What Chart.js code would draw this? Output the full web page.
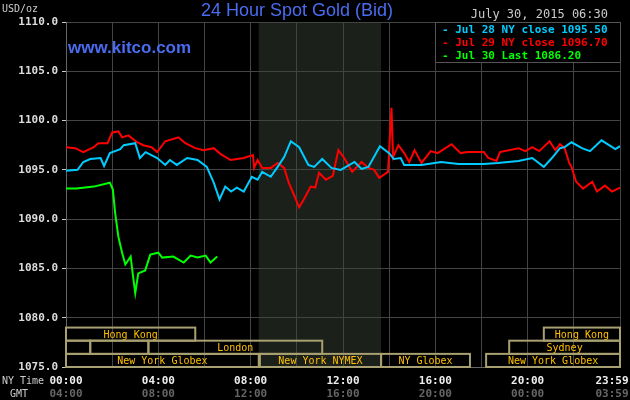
<!DOCTYPE html>
<html>
<head>
<meta charset="utf-8">
<script src="https://cdn.jsdelivr.net/npm/chart.js@4/dist/chart.umd.min.js"></script>
<style>
  body { margin: 0; background: #000; }
  #wrap { width: 630px; height: 400px; }
</style>
</head>
<body>
<div id="wrap"><canvas id="gold-chart" width="630" height="400"></canvas></div>
<script>
// hours since 00:00 NY time, price in USD/oz
const jul28Hours = [0, 0.5, 0.75, 1.05, 1.5, 1.65, 1.9, 2.35, 2.5, 3.0, 3.2, 3.45, 3.95, 4.3, 4.5, 4.8, 5.25, 5.7, 6.1, 6.4, 6.65, 6.9, 7.15, 7.4, 7.7, 8.05, 8.3, 8.5, 8.87, 9.17, 9.45, 9.74, 10.1, 10.5, 10.75, 11.1, 11.5, 11.9, 12.5, 12.8, 13.1, 13.6, 14.0, 14.2, 14.5, 14.65, 15.4, 16.25, 17, 18.1, 18.7, 19.6, 20.2, 20.7, 21.05, 21.4, 21.6, 21.9, 22.35, 22.7, 23.2, 23.8, 24];
const jul28Values = [1094.9, 1095.0, 1095.8, 1096.1, 1096.2, 1095.4, 1096.7, 1097.1, 1097.5, 1097.7, 1096.2, 1096.8, 1096.2, 1095.5, 1096.0, 1095.5, 1096.2, 1096.0, 1095.3, 1093.7, 1092.0, 1093.3, 1092.8, 1093.2, 1092.8, 1094.3, 1094.0, 1094.8, 1094.3, 1095.3, 1096.3, 1097.9, 1097.3, 1095.5, 1095.3, 1096.1, 1095.2, 1095.0, 1095.8, 1095.1, 1095.3, 1097.4, 1096.7, 1096.1, 1096.2, 1095.5, 1095.5, 1095.8, 1095.6, 1095.6, 1095.7, 1095.9, 1096.2, 1095.3, 1096.2, 1097.2, 1097.3, 1097.8, 1097.2, 1096.9, 1098.0, 1097.1, 1097.4];

const jul29Hours = [0, 0.4, 0.75, 1.2, 1.4, 1.8, 2.0, 2.27, 2.43, 2.7, 3.08, 3.35, 3.7, 3.95, 4.3, 4.87, 5.17, 5.6, 5.96, 6.4, 6.7, 7.13, 7.7, 8.1, 8.15, 8.3, 8.5, 8.87, 9.17, 9.45, 9.65, 9.87, 10.1, 10.3, 10.6, 10.8, 10.96, 11.26, 11.56, 11.8, 12.05, 12.4, 12.8, 13.1, 13.35, 13.57, 13.95, 14.1, 14.17, 14.4, 14.65, 14.87, 15.1, 15.4, 15.8, 16.1, 16.7, 17.1, 17.4, 18.1, 18.3, 18.65, 18.8, 19.6, 19.9, 20.2, 20.5, 20.95, 21.2, 21.4, 21.6, 21.8, 21.9, 22.1, 22.4, 22.8, 23.0, 23.35, 23.65, 24];
const jul29Values = [1097.3, 1097.2, 1096.8, 1097.3, 1097.7, 1097.7, 1098.8, 1098.9, 1098.3, 1098.5, 1097.8, 1097.5, 1097.3, 1096.8, 1097.9, 1098.3, 1097.7, 1097.2, 1097.0, 1097.2, 1096.6, 1096.0, 1096.2, 1096.5, 1095.2, 1096.0, 1095.2, 1095.2, 1095.7, 1095.2, 1093.7, 1092.5, 1091.2, 1092.0, 1093.3, 1093.2, 1094.7, 1094.0, 1094.4, 1097.0, 1096.2, 1094.8, 1095.8, 1095.2, 1095.0, 1094.2, 1094.8, 1101.3, 1096.3, 1097.5, 1096.7, 1095.8, 1097.0, 1095.7, 1096.9, 1096.7, 1097.6, 1096.7, 1096.8, 1096.8, 1096.2, 1095.9, 1096.8, 1097.2, 1096.9, 1097.3, 1096.9, 1097.9, 1097.0, 1097.6, 1097.2, 1095.7, 1095.3, 1093.8, 1093.1, 1093.8, 1092.8, 1093.4, 1092.8, 1093.2];

const jul30Hours = [0, 0.45, 1.2, 1.9, 2.03, 2.13, 2.27, 2.43, 2.57, 2.8, 2.9, 3.0, 3.13, 3.43, 3.65, 4.0, 4.17, 4.65, 5.1, 5.4, 5.7, 6.05, 6.26, 6.55];
const jul30Values = [1093.1, 1093.1, 1093.3, 1093.7, 1093.0, 1090.6, 1088.2, 1086.6, 1085.4, 1086.2, 1084.3, 1082.5, 1084.5, 1084.8, 1086.4, 1086.6, 1086.1, 1086.2, 1085.6, 1086.3, 1086.1, 1086.3, 1085.6, 1086.2];

const legendLabels = ["Jul 28 NY close 1095.50", "Jul 29 NY close 1096.70", "Jul 30 Last 1086.20"];
const seriesColors = ["#00ccff", "#ff0000", "#00ff00"];
const nyTimeLabels = ["00:00", "04:00", "08:00", "12:00", "16:00", "20:00", "23:59"];
const gmtTimeLabels = ["04:00", "08:00", "12:00", "16:00", "20:00", "00:00", "03:59"];
const timeTickHours = [0, 4, 8, 12, 16, 20, 24];

// trading sessions: [row, startHour, endHour, label]
const sessions = [
  [0, 0, 5.6, "Hong Kong"], [0, 20.7, 24, "Hong Kong"],
  [1, 0, 1.05, ""], [1, 1.05, 3.57, ""], [1, 3.57, 11.1, "London"], [1, 19.2, 24, "Sydney"],
  [2, 0, 8.35, "New York Globex"], [2, 8.4, 13.65, "New York NYMEX"], [2, 13.65, 17.5, "NY Globex"], [2, 18.2, 24, "New York Globex"]
];
const sessionRowTops = [1079, 1077.67, 1076.33];
const sessionRowBottoms = [1077.67, 1076.33, 1075];
const nymexShade = [8.35, 13.65];

const MONO = "'DejaVu Sans Mono', monospace";

function toPoints(hours, values) {
  return hours.map((h, i) => ({ x: h, y: values[i] }));
}

const decorPlugin = {
  id: "decor",
  beforeDatasetsDraw(chart) {
    const { ctx, chartArea: a, scales: { x, y } } = chart;
    ctx.save();
    ctx.fillStyle = "rgba(60,70,60,0.45)";
    const x0 = x.getPixelForValue(nymexShade[0]);
    const x1 = x.getPixelForValue(nymexShade[1]);
    ctx.fillRect(x0, a.top, x1 - x0, a.bottom - a.top);
    ctx.strokeStyle = "#a8a070";
    ctx.lineWidth = 2;
    ctx.fillStyle = "#ffc000";
    ctx.font = "10px " + MONO;
    ctx.textAlign = "center";
    ctx.textBaseline = "middle";
    sessions.forEach(s => {
      const l = x.getPixelForValue(s[1]);
      const r = x.getPixelForValue(s[2]);
      const t = y.getPixelForValue(sessionRowTops[s[0]]);
      const b = y.getPixelForValue(sessionRowBottoms[s[0]]);
      ctx.strokeRect(l, t, r - l, b - t);
      if (s[3]) ctx.fillText(s[3], (l + r) / 2, (t + b) / 2 + 1);
    });
    ctx.restore();
  },
  afterDraw(chart) {
    const { ctx, chartArea: a, scales: { x } } = chart;
    ctx.save();
    ctx.textBaseline = "middle";
    // title and texts
    ctx.fillStyle = "#4a6cf0";
    ctx.font = "18px 'Liberation Sans', Arial, sans-serif";
    ctx.textAlign = "center";
    ctx.fillText("24 Hour Spot Gold (Bid)", 297, 11);
    ctx.font = "bold 17px 'Liberation Sans', Arial, sans-serif";
    ctx.textAlign = "left";
    ctx.fillText("www.kitco.com", 68, 48);
    ctx.fillStyle = "#ccc";
    ctx.font = "10px " + MONO;
    ctx.fillText("USD/oz", 2, 9);
    ctx.font = "12px " + MONO;
    ctx.textAlign = "right";
    ctx.fillText("July 30, 2015 06:30", 608, 15);
    // legend box
    ctx.fillStyle = "#000";
    ctx.fillRect(435, a.top, a.right - 435, 40);
    ctx.strokeStyle = "#555";
    ctx.lineWidth = 1;
    ctx.strokeRect(435.5, a.top + 0.5, a.right - 435, 40);
    ctx.textAlign = "left";
    ctx.font = "bold 11px " + MONO;
    legendLabels.forEach((t, i) => {
      ctx.fillStyle = seriesColors[i];
      ctx.fillText("- " + t, 442, a.top + 8 + i * 13);
    });
    // time axis
    ctx.fillStyle = "#ccc";
    ctx.font = "10px " + MONO;
    ctx.fillText("NY Time", 2, 381);
    ctx.fillText("GMT", 10, 394);
    ctx.textAlign = "center";
    timeTickHours.forEach((h, i) => {
      let px = x.getPixelForValue(h);
      if (i === timeTickHours.length - 1) px -= 8;
      ctx.fillStyle = "#eee";
      ctx.font = "bold 11px " + MONO;
      ctx.fillText(nyTimeLabels[i], px, 381);
      ctx.fillStyle = "#666";
      ctx.fillText(gmtTimeLabels[i], px, 394);
    });
    ctx.restore();
  }
};

const bgPlugin = {
  id: "bg",
  beforeDraw(chart) {
    const ctx = chart.ctx;
    ctx.save();
    ctx.fillStyle = "#000";
    ctx.fillRect(0, 0, chart.width, chart.height);
    ctx.restore();
  }
};

new Chart(document.getElementById("gold-chart").getContext("2d"), {
  type: "line",
  data: {
    datasets: [
      { data: toPoints(jul28Hours, jul28Values), borderColor: seriesColors[0] },
      { data: toPoints(jul29Hours, jul29Values), borderColor: seriesColors[1] },
      { data: toPoints(jul30Hours, jul30Values), borderColor: seriesColors[2] }
    ].map(d => Object.assign(d, { borderWidth: 2, pointRadius: 0, tension: 0, fill: false }))
  },
  options: {
    responsive: false,
    animation: false,
    layout: { padding: { top: 22, right: 10, bottom: 33, left: 0 } },
    plugins: { legend: { display: false }, tooltip: { enabled: false } },
    scales: {
      x: {
        type: "linear", min: 0, max: 24,
        ticks: { display: false, stepSize: 2 },
        grid: { color: "#444", lineWidth: 1, drawTicks: false },
        border: { color: "#666" }
      },
      y: {
        min: 1075, max: 1110,
        afterFit(s) { s.width = 66; },
        ticks: { stepSize: 5, color: "#ddd", font: { family: "DejaVu Sans Mono", size: 11, weight: "bold" }, callback: v => v.toFixed(1), padding: 4 },
        grid: { color: "#444", lineWidth: 1, tickLength: 4, tickColor: "#ccc" },
        border: { color: "#666" }
      }
    }
  },
  plugins: [bgPlugin, decorPlugin]
});
</script>
</body>
</html>
